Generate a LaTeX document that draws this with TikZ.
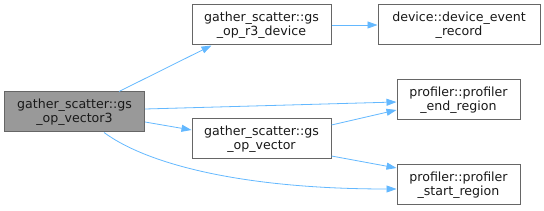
\documentclass[tikz,border=0pt]{standalone}
\usepackage{fontspec}
\setmainfont{DejaVu Sans}
\usetikzlibrary{arrows.meta}
\definecolor{edgeblue}{HTML}{63B8FF}
\definecolor{boxline}{HTML}{666666}
\definecolor{mainfill}{HTML}{999999}
\tikzset{
  fn/.style={draw=boxline, line width=1pt, fill=white, align=center, inner sep=0pt,
    font=\fontsize{12.6}{14}\selectfont, text=black!90},
  mainfn/.style={fn, fill=mainfill},
  call/.style={draw=edgeblue, line width=0.8pt, -{Triangle[length=10pt,width=7pt]}}
}
\begin{document}
\begin{tikzpicture}[x=1pt,y=-1pt]
\useasboundingbox (0,0) rectangle (544,211);
\node[mainfn, minimum width=140pt, minimum height=40pt] (v3) at (74.5,112) {gather\_scatter::gs\\\_op\_vector3};
\node[fn, minimum width=139pt, minimum height=40pt] (r3) at (261.5,25) {gather\_scatter::gs\\\_op\_r3\_device};
\node[fn, minimum width=162pt, minimum height=40pt] (der) at (459,25) {device::device\_event\\\_record};
\node[fn, minimum width=139pt, minimum height=40pt] (gv) at (261.5,139) {gather\_scatter::gs\\\_op\_vector};
\node[fn, minimum width=123pt, minimum height=40pt] (endr) at (458.5,100) {profiler::profiler\\\_end\_region};
\node[fn, minimum width=123pt, minimum height=40pt] (startr) at (458.5,185) {profiler::profiler\\\_start\_region};

\draw[call] ([xshift=115pt]v3.north west) -- ([xshift=20pt]r3.south west);
\draw[call] (r3.east) -- (der.west);
\draw[call] ([yshift=3pt]v3.east) -- ([yshift=-2pt]endr.west);
\draw[call] ([yshift=-10pt]v3.east) -- ([yshift=9pt]gv.west);
\draw[call] ([xshift=100pt]v3.south west) .. controls +(45,33) and +(-150,0) .. ([yshift=-4pt]startr.west);
\draw[call] ([yshift=14pt]gv.east) -- ([yshift=-10pt]endr.west);
\draw[call] ([yshift=-17pt]gv.east) -- ([yshift=17pt]startr.west);
\end{tikzpicture}
\end{document}
